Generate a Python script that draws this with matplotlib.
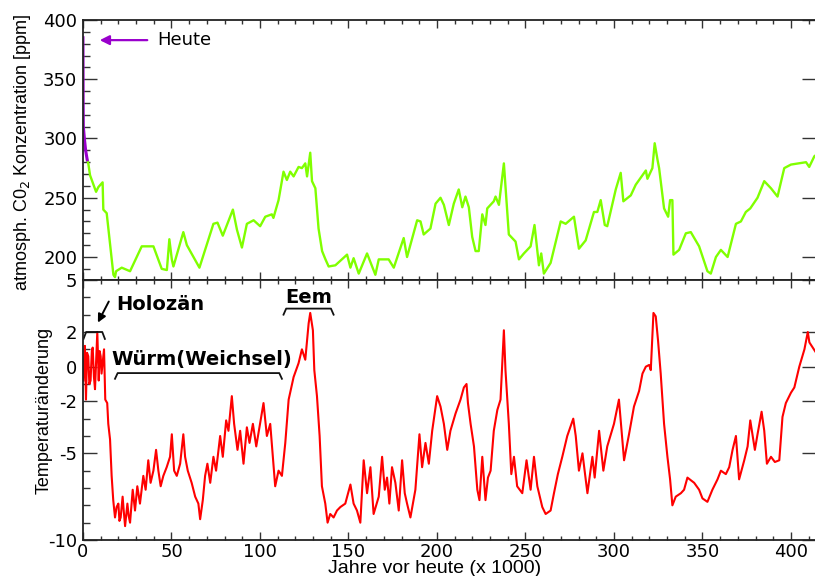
import numpy as np
import matplotlib.pyplot as plt
from matplotlib.ticker import MultipleLocator

plt.rcParams['axes.unicode_minus'] = False

# CO2 (Vostok), Jahre vor heute in 1000, ppm
co2_age = [2.4, 3.0, 4.0, 7.4, 8.7, 11.1, 11.5, 13.4, 17.2, 18.1, 18.7, 21.9, 26.6,
           33.2, 39.8, 44.5, 47.4, 48.8, 50.2, 51.1, 56.7, 58.7, 65.8, 73.7, 76.0,
           79.0, 84.7, 87.0, 89.8, 92.6, 96.4, 100.1, 103.0, 106.7, 107.6, 110.5,
           113.3, 115.2, 117.1, 119.0, 121.8, 123.7, 125.6, 126.6, 128.4, 129.4,
           131.3, 133.1, 135.1, 137.0, 138.8, 142.6, 149.2, 151.1, 152.9, 155.8,
           160.5, 165.2, 167.1, 172.7, 175.6, 181.2, 183.1, 188.8, 190.7, 192.5,
           196.3, 199.2, 202.0, 203.9, 206.7, 209.5, 212.3, 214.3, 216.1, 218.0,
           219.9, 221.8, 223.6, 225.6, 227.4, 228.4, 232.1, 233.1, 235.0, 237.8,
           240.6, 244.4, 246.3, 249.1, 252.9, 255.1, 257.6, 258.9, 260.4, 264.2,
           269.9, 272.7, 277.4, 280.2, 284.0, 288.7, 290.6, 292.5, 294.8, 296.2,
           301.0, 303.8, 305.3, 309.5, 312.3, 316.1, 318.0, 318.9, 321.7, 323.0,
           324.6, 325.5, 328.3, 330.6, 331.7, 333.0, 333.6, 336.8, 340.6, 343.4,
           348.1, 352.8, 354.7, 357.6, 360.4, 364.2, 368.9, 371.7, 374.5, 377.0,
           381.1, 384.9, 388.7, 392.4, 396.2, 400.0, 408.5, 410.3, 413.2, 415.0]
co2_ppm = [282, 279, 269, 255, 259, 263, 240, 237, 185, 183, 188, 191, 188,
           209, 209, 190, 189, 215, 198, 192, 221, 210, 191, 228, 229,
           218, 240, 223, 208, 228, 231, 226, 234, 236, 233, 248,
           272, 265, 272, 268, 276, 275, 279, 268, 288, 264,
           258, 224, 205, 198, 192, 193, 202, 191, 199, 186,
           203, 185, 198, 198, 191, 216, 200, 231, 230, 219,
           224, 245, 250, 244, 227, 245, 257, 242, 251, 242,
           217, 205, 205, 236, 227, 241, 247, 251, 244, 279,
           219, 213, 198, 203, 209, 227, 193, 203, 186, 195,
           230, 228, 234, 207, 214, 238, 238, 248, 227, 226,
           257, 271, 247, 252, 261, 269, 273, 266, 275, 296,
           282, 275, 241, 234, 248, 248, 202, 206, 220, 221,
           209, 188, 186, 200, 206, 200, 228, 230, 238, 241,
           250, 264, 258, 251, 275, 278, 280, 276, 285, 287]

# moderner Anstieg
heute_age = [0.0, 0.05, 0.1, 0.2, 0.8, 1.5, 2.4]
heute_ppm = [385, 360, 330, 310, 300, 290, 282]

# Temperaturänderung (deg C)
temp_age = [0.2, 0.6, 1.1, 1.7, 2.3, 3.0, 3.6, 4.3, 5.0, 5.5, 6.2, 6.8, 7.5, 8.1, 8.9,
            9.4, 10.0, 10.5, 11.1, 11.9, 12.6,
            13.7, 14.3, 15.3, 16.2, 17.1, 18.1, 19.0, 20.0, 20.6, 21.3, 22.4, 23.1,
            23.8, 25.1, 25.8, 26.6,
            28.1, 29.4, 30.7, 32.2, 34.1, 35.4, 36.9, 38.2, 39.8, 41.3, 42.6, 43.9,
            45.4, 47.3, 49.2, 50.2, 51.5, 53.0, 54.9, 56.7, 57.7, 59.2, 61.4, 63.4,
            65.2, 66.2, 67.7, 69.0, 70.3, 71.9, 73.7, 75.2, 77.5, 79.0, 80.9, 82.2,
            84.1, 85.4, 87.3, 88.8, 90.7, 92.6, 94.1, 96.0, 97.9, 99.7, 102.0, 103.9,
            105.8, 107.3, 108.6, 110.5, 112.4, 114.3, 116.2, 119.0, 121.8, 123.7,
            125.6, 127.5, 128.4, 129.9, 130.7, 132.2, 133.7, 135.0, 136.9, 138.2,
            139.7, 141.6, 143.5, 145.4, 148.2, 151.1, 152.9, 154.8, 156.7, 158.6,
            160.5, 162.4, 164.2, 167.1, 169.0, 170.5, 171.8, 173.1, 174.6, 176.5,
            178.4, 180.3, 181.8, 183.1, 185.0, 187.8, 190.1, 191.6, 193.5, 195.4,
            197.3, 200.1, 202.0, 203.9, 205.8, 207.6, 210.5, 213.3, 215.2, 216.7,
            217.5, 219.0, 220.9, 222.8, 224.0, 225.6, 227.4, 228.8, 230.3, 232.1,
            234.1, 235.9, 237.8, 238.7, 240.6, 242.0, 243.5, 245.3, 248.2, 250.6,
            252.9, 254.8, 256.7, 259.5, 261.4, 264.2, 266.1, 268.3, 270.8, 273.6,
            277.0, 278.4, 280.2, 282.2, 285.0, 287.8, 289.1, 291.6, 294.0, 296.2,
            300.0, 302.8, 305.7, 308.5, 311.3, 314.2, 316.1, 318.0, 319.9, 320.8,
            322.3, 323.6, 324.9, 326.4, 328.3, 330.2, 331.7, 333.0, 334.9, 337.8,
            339.6, 341.5, 345.3, 348.1, 350.0, 352.8, 355.6, 358.5, 360.4, 363.2,
            365.1, 367.0, 368.9, 370.7, 373.6, 375.5, 377.0, 379.6, 381.1, 383.4,
            384.9, 386.4, 388.7, 390.9, 393.4, 395.2, 397.1, 400.0, 401.9, 404.7,
            407.6, 409.5, 410.4, 414.2]
temp_val = [-0.8, 0.3, 1.2, -1.9, 0.8, 0.6, -1.0, -0.8, 0.9, 1.1, -0.6, -1.3, 0.5, 2.0, -0.8,
            0.9, 0.6, -0.4, 0.2, 1.0, -1.9,
            -2.1, -3.3, -4.2, -6.3, -7.7, -8.7, -8.1, -7.9, -8.9, -8.7, -7.5, -8.4,
            -9.2, -7.9, -8.6, -9.0,
            -7.1, -8.3, -6.9, -7.9, -6.3, -7.1, -5.4, -6.7, -6.0, -4.8, -6.0, -6.9,
            -6.3, -5.8, -5.2, -3.9, -6.0, -6.3, -5.6, -3.9, -5.2, -6.0, -6.7, -7.5,
            -7.9, -8.8, -7.7, -6.3, -5.6, -6.7, -5.2, -6.0, -4.0, -5.2, -3.1, -3.7,
            -1.7, -3.3, -4.8, -3.7, -5.6, -3.5, -4.4, -3.3, -4.6, -3.5, -2.1, -4.0,
            -3.3, -5.2, -6.9, -6.0, -6.3, -4.4, -1.9, -0.6, 0.2, 1.0,
            0.4, 2.5, 3.1, 2.1, -0.2, -1.7, -4.0, -6.9, -7.9, -9.0,
            -8.5, -8.7, -8.3, -8.1, -7.9, -6.8, -7.9, -8.3, -9.0, -5.4,
            -7.3, -5.8, -8.5, -7.5, -5.2, -7.1, -6.4, -7.9, -5.8, -6.7,
            -8.3, -5.4, -7.3, -7.9, -8.7, -7.1, -3.9, -5.8, -4.4, -5.6,
            -3.7, -1.7, -2.3, -3.3, -4.8, -3.7, -2.7, -1.9, -1.2, -1.0,
            -2.1, -3.3, -4.6, -7.1, -7.7, -5.2, -7.7, -6.4, -6.0, -3.7,
            -2.5, -1.9, 2.1, -0.2, -3.3, -6.2, -5.2, -6.9, -7.3, -5.4,
            -7.1, -5.2, -6.9, -8.1, -8.5, -8.3, -7.3, -6.2, -5.2, -4.0,
            -3.0, -4.0, -6.0, -5.0, -7.3, -5.2, -6.4, -3.7, -6.0, -4.6,
            -3.3, -1.9, -5.4, -3.9, -2.3, -1.4, -0.4, 0.0, 0.1, -0.2,
            3.1, 2.9, 1.5, -0.4, -3.3, -5.2, -6.5, -8.0, -7.5, -7.3,
            -7.1, -6.4, -6.7, -7.1, -7.6, -7.8, -7.1, -6.5, -6.0, -6.2,
            -5.8, -4.8, -4.0, -6.5, -5.4, -4.6, -3.1, -4.8, -3.9, -2.6,
            -3.7, -5.6, -5.2, -5.5, -5.4, -2.9, -2.1, -1.5, -1.2, 0.0,
            1.0, 2.0, 1.4, 0.8]

x_ticks = [0, 50, 100, 150, 200, 250, 300, 350, 400]
co2_ticks = [200, 250, 300, 350, 400]
temp_ticks = [-10, -5, -2, 0, 2, 5]

green = '#80ff00'
purple = '#9900cc'
red = '#ff0000'

fig = plt.figure(figsize=(8.15, 5.76), dpi=100)
ax1 = fig.add_axes([0.1018, 0.5139, 0.9, 0.4514])
ax2 = fig.add_axes([0.1018, 0.0625, 0.9, 0.4514], sharex=ax1)

ax1.plot(co2_age, co2_ppm, color=green, lw=1.7)
ax1.plot(heute_age, heute_ppm, color=purple, lw=2.2)
ax2.plot(temp_age, temp_val, color=red, lw=1.5)

ax1.set_xlim(0, 414.4)
ax1.set_ylim(180.6, 400)
ax2.set_ylim(-10, 5)

for ax in (ax1, ax2):
    ax.xaxis.set_major_locator(MultipleLocator(50))
    ax.xaxis.set_minor_locator(MultipleLocator(10))
    for s in ax.spines.values():
        s.set_linewidth(1.3)
        s.set_color('#222222')
    ax.tick_params(axis='both', which='both', direction='in', top=True, right=True,
                   color='#333333', labelsize=13, width=1)
    ax.tick_params(axis='x', which='major', length=6, pad=2)
    ax.tick_params(axis='x', which='minor', length=3)
    ax.tick_params(axis='y', which='major', length=10, pad=4)
    ax.tick_params(axis='y', which='minor', length=5, right=False)

ax1.set_yticks(co2_ticks)
ax1.yaxis.set_minor_locator(MultipleLocator(10))
ax1.tick_params(axis='x', labelbottom=False)
ax2.set_yticks(temp_ticks)
ax2.yaxis.set_minor_locator(MultipleLocator(1))
ax2.set_xticks(x_ticks)

ax1.set_ylabel('atmosph. C0$_2$ Konzentration [ppm]', family='Liberation Sans', fontsize=13)
ax1.yaxis.set_label_coords(-0.068, 0.49)
ax2.set_ylabel('Temperaturänderung', family='Liberation Sans', fontsize=13)
ax2.yaxis.set_label_coords(-0.041, 0.5)
ax2.set_xlabel('Jahre vor heute (x 1000)', family='Liberation Sans', fontsize=14)
ax2.xaxis.set_label_coords(0.479, -0.075)

# Pfeil "Heute"
ax1.annotate('', xy=(7.9, 383), xytext=(37.9, 383),
             arrowprops=dict(arrowstyle='-|>', color=purple, lw=1.6, mutation_scale=14))
ax1.text(41.9, 383, 'Heute', fontsize=13, va='center', ha='left')


def bracket(ax, x0, x1, ytop, yend):
    ax.plot([x0, x0 + 1.5, x1 - 1.5, x1], [yend, ytop, ytop, yend], color='#111111', lw=1.3)


bold = dict(fontsize=14, fontweight='bold', family='DejaVu Sans')
bracket(ax2, 0.3, 12.4, 2.0, 1.6)
ax2.annotate('', xy=(7.7, 2.4), xytext=(15.3, 3.9),
             arrowprops=dict(arrowstyle='-|>', color='k', lw=1.4, mutation_scale=12))
ax2.text(19.0, 3.6, 'Holozän', ha='left', va='center', **bold)

bracket(ax2, 113.3, 141.6, 3.35, 3.0)
ax2.text(127.5, 4.0, 'Eem', ha='center', va='center', **bold)

bracket(ax2, 18.1, 112.4, -0.37, -0.7)
ax2.text(67.0, 0.4, 'Würm(Weichsel)', ha='center', va='center', **bold)

plt.savefig('out.png', dpi=100)
